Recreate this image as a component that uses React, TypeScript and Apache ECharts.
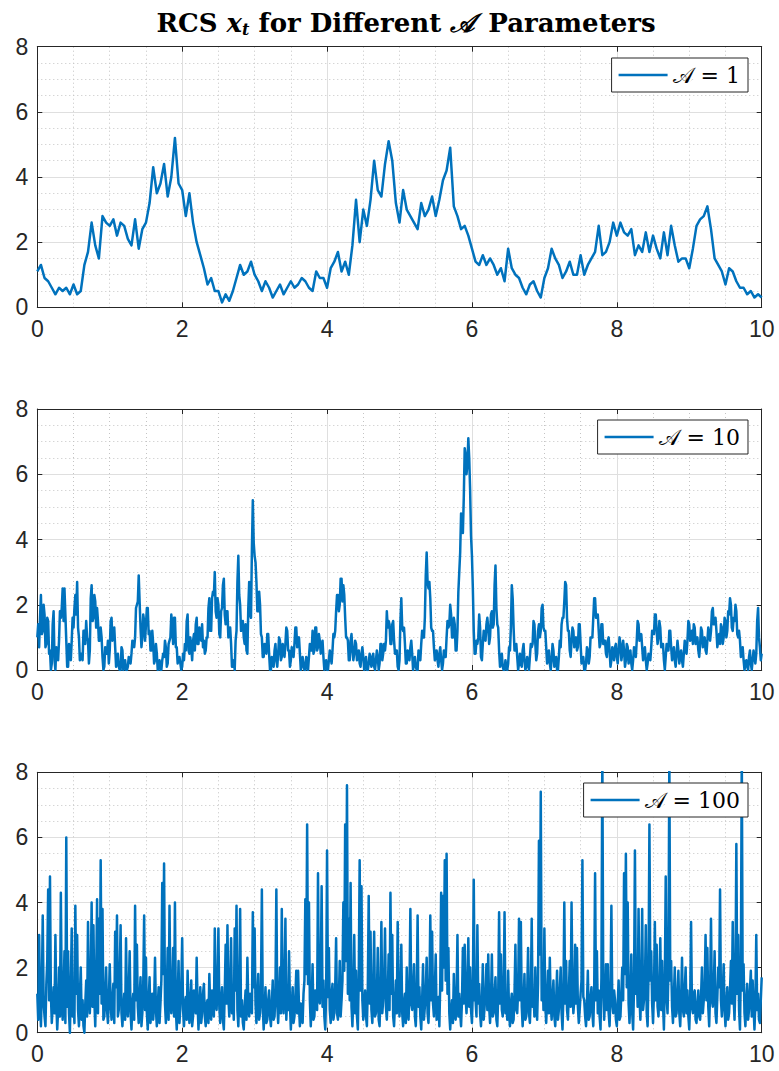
import React, { useEffect, useRef } from "react";
import * as echarts from "echarts";

// ---------- data ----------
const X_TICKS = [0, 2, 4, 6, 8, 10];
const Y_TICKS = [0, 2, 4, 6, 8];
const SERIES_NAMES = ["𝒜 = 1", "𝒜 = 10", "𝒜 = 100"];

// A = 1, step 0.05 from t = 0 to 10
const DT1 = 0.05;
const VALUES_A1 = [
  1.1, 1.3, 0.9, 0.8, 0.6, 0.4, 0.6, 0.5, 0.6, 0.4,
  0.7, 0.4, 0.5, 1.3, 1.7, 2.6, 1.9, 1.5, 2.8, 2.6,
  2.5, 2.7, 2.2, 2.6, 2.5, 2.1, 1.9, 2.7, 1.8, 2.4,
  2.6, 3.2, 4.3, 3.5, 3.8, 4.4, 3.4, 4.0, 5.2, 3.8,
  3.6, 2.8, 3.5, 2.6, 2.0, 1.6, 1.2, 0.7, 0.9, 0.5,
  0.5, 0.15, 0.4, 0.2, 0.5, 0.9, 1.3, 1.0, 1.1, 1.4,
  1.0, 0.8, 0.5, 0.8, 0.6, 0.3, 0.5, 0.7, 0.4, 0.6,
  0.8, 0.6, 0.7, 0.9, 0.8, 0.6, 0.5, 1.1, 0.9, 0.9,
  0.6, 1.2, 1.4, 1.7, 1.1, 1.4, 1.0, 1.9, 3.3, 2.0,
  3.0, 2.5, 3.3, 4.5, 3.6, 3.4, 4.4, 5.1, 4.5, 3.2,
  2.6, 3.6, 3.0, 2.8, 2.6, 2.4, 3.2, 2.8, 3.0, 3.4,
  2.8, 3.3, 3.9, 4.2, 4.9, 3.1, 2.8, 2.4, 2.5, 2.2,
  1.8, 1.4, 1.3, 1.6, 1.3, 1.5, 1.3, 1.0, 1.2, 0.8,
  1.8, 1.2, 1.0, 0.9, 0.6, 0.4, 0.7, 0.8, 0.5, 0.3,
  0.9, 1.2, 1.8, 1.5, 1.3, 0.9, 1.1, 1.4, 1.0, 1.0,
  1.6, 1.0, 1.3, 1.5, 1.7, 2.5, 1.6, 1.7, 2.0, 2.6,
  2.2, 2.6, 2.3, 2.2, 2.4, 1.6, 1.9, 1.7, 2.3, 1.7,
  2.2, 1.8, 1.5, 2.3, 1.6, 2.5, 1.9, 1.4, 1.5, 1.5,
  1.2, 1.8, 2.5, 2.7, 2.8, 3.1, 2.4, 1.5, 1.3, 1.1,
  0.7, 1.2, 1.1, 0.8, 0.6, 0.6, 0.4, 0.5, 0.3, 0.4,
  0.3,
];

// A = 10, step 0.0125
const DT2 = 0.0125;
const VALUES_A10 = [
  1.0, 1.4, 0.7, 1.6, 2.3, 1.1, 1.2, 2.0, 1.7, 0.7, 0.8, 1.6, 1.5, 0.5, 0.6, 0.0, 0.2, 1.4, 1.8, 0.3,
  0.0, 0.7, 0.5, 0.3, 0.9, 1.8, 1.6, 1.9, 2.5, 1.5, 2.5, 1.7, 0.9, 0.1, 0.1, 0.8, 0.6, 0.3, 0.9, 1.6,
  1.3, 1.9, 2.3, 1.7, 2.7, 1.3, 1.0, 0.3, 0.5, 0.5, 0.3, 1.2, 1.2, 0.8, 1.5, 1.0, 0.9, 0.2, 0.6, 2.2,
  2.6, 1.5, 1.6, 2.3, 2.1, 1.3, 1.9, 1.5, 0.9, 0.9, 1.3, 1.0, 0.4, 0.0, 0.1, 0.7, 0.5, 0.5, 0.9, 0.2,
  0.6, 1.5, 1.6, 0.9, 1.1, 1.3, 0.7, 0.1, 0.3, 0.5, 0.1, 0.0, 0.0, 0.7, 0.6, 0.0, 0.1, 0.3, 0.0, 0.0,
  0.1, 0.4, 0.3, 0.2, 0.5, 0.9, 0.8, 0.7, 1.0, 1.9, 2.0, 2.1, 2.9, 2.1, 1.3, 0.7, 1.0, 1.7, 1.5, 0.9,
  1.4, 1.9, 1.9, 1.1, 1.2, 0.6, 0.6, 1.2, 0.8, 0.2, 0.3, 0.8, 0.5, 0.0, 0.2, 0.3, 0.0, 0.0, 0.3, 0.5,
  0.4, 0.9, 0.7, 0.1, 0.2, 0.8, 0.9, 1.0, 1.7, 1.4, 0.8, 1.6, 1.6, 0.7, 0.7, 0.2, 0.3, 0.4, 0.2, 0.0,
  0.1, 0.5, 0.3, 0.8, 0.6, 1.5, 1.7, 0.6, 0.5, 1.0, 0.7, 0.3, 0.9, 1.1, 0.6, 1.4, 1.6, 0.8, 0.8, 1.3,
  1.1, 0.9, 1.4, 0.7, 0.9, 0.5, 0.6, 1.0, 1.0, 1.9, 2.2, 1.2, 1.2, 2.2, 2.4, 2.3, 3.0, 1.8, 1.6, 2.2,
  2.0, 1.1, 1.0, 1.8, 1.9, 2.6, 2.8, 1.7, 1.4, 1.8, 1.8, 1.0, 1.1, 1.3, 0.8, 0.1, 0.1, 0.3, 0.0, 0.9,
  1.2, 2.7, 3.5, 2.3, 2.0, 1.2, 1.3, 1.5, 1.0, 0.8, 1.4, 0.6, 0.5, 1.9, 2.7, 1.7, 1.6, 3.7, 5.2, 3.9,
  3.5, 3.3, 2.7, 1.8, 1.8, 2.4, 2.0, 1.1, 1.0, 0.4, 0.4, 0.8, 0.7, 0.5, 1.1, 1.1, 0.5, 0.0, 0.0, 0.4,
  0.2, 0.1, 0.6, 0.8, 0.3, 0.1, 0.5, 1.0, 0.9, 0.3, 0.4, 0.8, 0.6, 0.4, 0.8, 1.3, 1.2, 0.6, 0.6, 0.1,
  0.3, 0.7, 0.5, 0.4, 0.8, 1.3, 1.3, 0.7, 0.8, 1.0, 0.5, 0.0, 0.1, 0.4, 0.2, 0.0, 0.0, 0.4, 0.3, 0.0,
  0.4, 0.8, 0.6, 0.6, 1.2, 0.5, 0.6, 1.3, 1.3, 0.6, 0.7, 1.1, 0.9, 0.5, 0.7, 0.9, 0.4, 0.0, 0.1, 0.3,
  0.0, 0.0, 0.3, 0.6, 0.4, 0.2, 0.6, 1.1, 1.0, 1.2, 1.8, 2.3, 2.3, 1.8, 2.0, 2.8, 2.8, 2.1, 2.6, 2.3,
  1.6, 1.0, 1.0, 0.9, 0.3, 0.3, 0.9, 1.1, 0.6, 0.3, 0.5, 0.9, 0.8, 0.3, 0.4, 0.6, 0.2, 0.1, 0.5, 0.7,
  0.4, 0.0, 0.2, 0.4, 0.0, 0.0, 0.2, 0.5, 0.3, 0.1, 0.4, 0.5, 0.1, 0.0, 0.3, 0.6, 0.4, 0.0, 0.2, 0.8,
  0.8, 0.3, 0.5, 0.8, 0.6, 0.9, 1.8, 1.3, 1.5, 1.4, 0.8, 0.8, 1.4, 1.5, 0.9, 0.5, 0.6, 0.6, 0.1, 0.0,
  0.3, 1.5, 2.2, 1.3, 1.2, 1.3, 0.8, 0.2, 0.2, 0.6, 0.4, 0.3, 0.7, 0.9, 0.5, 0.0, 0.2, 0.4, 0.1, 0.0,
  0.0, 0.6, 0.5, 0.3, 0.8, 1.2, 1.0, 1.0, 1.6, 2.9, 3.6, 2.7, 2.5, 2.7, 2.2, 1.3, 1.2, 1.2, 0.7, 0.3,
  0.4, 0.6, 0.3, 0.1, 0.5, 0.7, 0.3, 0.0, 0.2, 0.6, 0.4, 0.4, 1.0, 1.5, 1.3, 1.4, 2.0, 1.7, 1.0, 1.0,
  1.6, 1.4, 0.6, 0.6, 1.2, 2.4, 3.0, 3.6, 4.8, 4.7, 4.2, 5.3, 6.8, 6.6, 6.0, 6.3, 7.1, 6.5, 5.5, 4.1,
  3.5, 2.5, 1.2, 0.5, 0.5, 0.9, 0.8, 1.0, 1.7, 1.3, 0.4, 0.3, 0.8, 1.2, 1.0, 0.9, 1.4, 1.6, 1.3, 0.8,
  1.0, 1.7, 1.8, 1.3, 1.4, 2.6, 3.2, 1.9, 1.4, 1.3, 0.6, 0.1, 0.3, 0.5, 0.1, 0.0, 0.0, 0.3, 0.1, 0.0,
  0.2, 0.7, 0.6, 1.3, 2.6, 2.2, 1.3, 0.6, 0.6, 0.8, 0.4, 0.0, 0.2, 0.5, 0.2, 0.1, 0.6, 0.8, 0.3, 0.0,
  0.1, 0.4, 0.2, 0.0, 0.4, 0.8, 0.7, 0.8, 1.5, 1.4, 0.8, 0.3, 0.5, 1.2, 1.4, 1.0, 1.2, 1.9, 2.0, 1.3,
  1.2, 1.2, 0.7, 0.2, 0.4, 0.6, 0.2, 0.0, 0.3, 0.8, 0.6, 0.1, 0.2, 0.4, 0.0, 0.0, 0.4, 0.9, 0.7, 1.4,
  1.6, 1.6, 2.1, 2.7, 2.6, 1.6, 1.2, 1.2, 0.6, 0.4, 0.9, 1.3, 1.2, 0.7, 0.8, 1.0, 0.6, 0.7, 1.4, 1.4,
  0.8, 0.2, 0.3, 0.4, 0.0, 0.0, 0.2, 0.7, 0.6, 0.2, 0.4, 1.0, 1.0, 1.0, 1.6, 2.2, 2.2, 1.6, 1.6, 1.7,
  1.2, 0.7, 0.8, 1.4, 1.4, 0.8, 0.8, 0.9, 0.5, 0.4, 0.9, 1.0, 0.6, 0.1, 0.3, 0.7, 0.5, 0.3, 0.7, 0.8,
  0.4, 0.2, 0.6, 1.0, 0.8, 0.3, 0.5, 0.9, 0.6, 0.1, 0.3, 0.8, 0.7, 0.2, 0.4, 0.6, 0.2, 0.0, 0.3, 0.7,
  0.5, 0.4, 0.9, 1.5, 1.4, 0.9, 1.0, 1.1, 0.7, 0.3, 0.5, 0.7, 0.3, 0.0, 0.2, 0.5, 0.4, 0.3, 0.7, 1.2,
  1.1, 1.1, 1.7, 1.7, 1.2, 0.8, 1.0, 1.5, 1.3, 0.7, 0.8, 0.8, 0.3, 0.0, 0.4, 0.8, 0.6, 0.6, 1.2, 1.2,
  0.7, 0.3, 0.5, 0.7, 0.3, 0.1, 0.5, 0.9, 0.6, 0.2, 0.4, 0.6, 0.3, 0.1, 0.5, 0.9, 0.6, 0.5, 0.9, 1.5,
  1.4, 0.9, 1.0, 1.2, 0.8, 1.4, 1.3, 0.8, 0.9, 1.0, 0.6, 0.4, 0.8, 1.3, 1.2, 0.7, 0.8, 1.0, 0.6, 0.5,
  0.9, 1.3, 1.1, 0.9, 1.2, 1.8, 1.9, 1.4, 1.5, 1.6, 1.2, 0.7, 0.9, 1.1, 0.8, 1.4, 1.3, 0.8, 1.0, 1.6,
  1.5, 1.0, 1.2, 1.8, 1.7, 2.2, 2.0, 1.3, 1.2, 1.6, 1.5, 2.0, 1.8, 1.1, 1.0, 1.2, 0.9, 0.4, 0.5, 0.7,
  0.3, 0.0, 0.2, 0.3, 0.1, 0.0, 0.4, 0.6, 0.2, 0.0, 0.3, 0.6, 0.4, 0.2, 0.5, 1.5, 1.9, 1.0, 0.7, 0.3,
  0.5,
];

// A = 100, step 0.0125
const DT3 = 0.0125;
const VALUES_A100 = [
  1.2, 0.4, 3.0, 1.1, 0.2, 1.3, 3.6, 0.9, 0.5, 0.2, 1.5, 2.2, 4.4, 1.0, 4.8, 1.2, 0.3, 0.8, 1.4, 0.6,
  3.0, 0.9, 0.1, 0.7, 2.0, 0.5, 4.3, 1.1, 0.4, 1.2, 2.5, 0.3, 6.0, 0.8, 2.5, 0.6, 0.0, 1.4, 3.2, 0.5,
  1.0, 0.3, 3.9, 1.2, 3.0, 0.7, 0.2, 1.1, 2.0, 0.4, 1.0, 0.2, 0.0, 0.9, 1.6, 0.5, 3.4, 1.3, 0.6, 1.5,
  4.0, 0.8, 3.3, 1.0, 0.2, 1.6, 4.1, 0.6, 3.5, 1.2, 5.3, 0.9, 3.8, 0.4, 0.5, 1.2, 2.0, 0.7, 0.3, 1.0,
  2.1, 0.9, 0.4, 1.0, 1.5, 0.3, 3.1, 1.4, 3.6, 0.5, 0.7, 1.8, 3.3, 0.6, 0.2, 0.8, 1.2, 0.4, 2.9, 0.8,
  0.5, 1.3, 2.5, 0.6, 0.1, 0.9, 1.2, 0.4, 3.9, 1.0, 2.7, 0.8, 0.3, 1.1, 1.7, 0.2, 0.6, 1.5, 3.6, 0.7,
  2.3, 0.6, 0.1, 1.0, 1.7, 0.3, 0.8, 1.2, 0.4, 0.9, 2.3, 0.7, 0.2, 0.8, 1.4, 0.3, 0.9, 1.6, 4.6, 1.8,
  5.2, 0.9, 0.3, 1.2, 2.6, 0.4, 3.9, 1.1, 0.6, 1.3, 2.6, 0.5, 4.0, 0.7, 0.1, 1.0, 2.2, 0.3, 0.8, 1.4,
  2.9, 0.7, 0.2, 0.9, 1.1, 0.4, 1.9, 0.8, 0.3, 1.0, 1.6, 0.2, 0.5, 1.3, 1.2, 0.6, 2.3, 0.9, 0.1, 0.8,
  1.4, 0.3, 0.6, 1.2, 1.5, 0.5, 0.2, 0.9, 1.0, 0.3, 1.8, 0.7, 0.4, 1.3, 1.1, 0.5, 3.2, 1.0, 0.7, 1.5,
  3.2, 0.8, 0.3, 1.0, 1.4, 0.4, 0.1, 1.2, 2.7, 0.9, 3.3, 1.1, 0.5, 1.4, 2.9, 0.6, 1.2, 0.4, 3.2, 1.3,
  3.9, 0.7, 0.2, 1.1, 3.8, 0.5, 1.0, 0.3, 0.1, 0.8, 1.3, 0.4, 2.3, 0.9, 0.5, 1.2, 1.1, 0.6, 3.7, 1.4,
  3.2, 0.9, 0.3, 1.1, 1.8, 0.4, 0.6, 1.3, 4.4, 0.8, 0.1, 0.7, 1.4, 0.3, 0.4, 1.0, 1.3, 0.5, 0.2, 0.9,
  1.6, 0.4, 0.5, 1.3, 4.4, 0.9, 0.3, 1.0, 2.0, 0.6, 3.8, 1.2, 0.6, 1.5, 3.5, 0.4, 1.1, 0.7, 2.5, 0.9,
  0.1, 0.8, 1.4, 0.3, 0.5, 1.1, 1.9, 0.6, 1.9, 0.8, 0.2, 0.9, 0.7, 0.3, 1.2, 1.6, 4.1, 1.8, 6.4, 1.5,
  4.0, 1.0, 0.2, 0.9, 2.1, 0.4, 0.5, 1.3, 1.2, 0.7, 4.9, 1.1, 0.9, 1.7, 4.5, 0.8, 1.6, 0.5, 0.1, 1.2,
  5.6, 1.1, 2.6, 0.7, 0.3, 1.2, 1.5, 0.4, 0.6, 1.4, 2.9, 0.6, 0.4, 1.0, 2.2, 0.5, 1.0, 1.6, 4.0, 1.9,
  6.4, 2.2, 7.6, 1.2, 3.5, 1.0, 4.6, 0.8, 0.2, 1.1, 3.0, 0.6, 1.9, 0.5, 0.1, 1.7, 5.3, 1.3, 4.5, 1.0,
  0.4, 0.9, 1.3, 0.5, 0.2, 1.4, 4.2, 0.9, 3.1, 0.7, 0.3, 1.2, 3.1, 0.5, 0.6, 1.1, 2.6, 0.4, 0.2, 1.3,
  3.4, 0.6, 1.0, 1.5, 3.2, 0.8, 0.4, 1.1, 2.4, 0.7, 4.3, 1.2, 3.0, 0.5, 0.2, 0.9, 1.6, 0.6, 3.4, 1.1,
  0.5, 1.2, 2.7, 0.6, 0.2, 0.9, 1.2, 0.3, 2.0, 0.8, 0.4, 1.3, 3.8, 0.9, 0.7, 1.4, 2.1, 0.5, 0.2, 1.2,
  3.6, 0.8, 1.4, 0.5, 0.1, 1.0, 2.1, 0.4, 0.8, 1.3, 2.3, 0.6, 0.3, 1.2, 3.6, 1.0, 3.1, 0.9, 0.5, 1.3,
  2.4, 0.4, 0.9, 1.1, 0.2, 1.5, 4.3, 1.3, 4.2, 2.0, 5.3, 1.6, 5.5, 1.2, 2.6, 0.6, 0.1, 0.7, 1.0, 0.3,
  1.8, 0.7, 0.4, 1.1, 3.0, 0.5, 1.2, 0.6, 0.2, 1.0, 2.6, 0.9, 2.7, 1.1, 0.6, 1.4, 2.9, 0.8, 2.0, 0.7,
  0.3, 1.3, 4.7, 1.0, 1.0, 0.5, 3.3, 0.9, 1.5, 0.6, 0.2, 0.9, 2.1, 0.4, 0.8, 1.2, 2.1, 0.7, 2.4, 0.8,
  0.3, 1.0, 2.4, 0.5, 0.6, 1.2, 1.7, 0.4, 0.2, 1.1, 3.7, 0.9, 2.4, 0.7, 0.5, 1.3, 3.7, 0.6, 1.0, 0.4,
  1.9, 0.6, 0.2, 0.9, 1.2, 0.3, 0.4, 1.2, 2.7, 0.7, 0.6, 1.3, 3.5, 1.0, 3.4, 0.8, 0.2, 0.9, 1.8, 0.4,
  0.5, 1.2, 2.6, 0.6, 0.3, 1.1, 3.5, 0.8, 1.2, 0.5, 2.0, 0.9, 0.4, 1.5, 5.9, 2.4, 7.4, 1.0, 2.0, 0.7,
  3.2, 0.9, 0.3, 1.0, 1.9, 0.6, 2.3, 0.9, 0.4, 1.1, 1.6, 0.5, 0.2, 1.0, 1.9, 0.4, 0.7, 1.3, 2.0, 0.6,
  0.1, 1.1, 4.0, 0.9, 2.2, 0.7, 0.4, 1.2, 2.2, 0.8, 4.0, 1.4, 0.6, 1.0, 2.7, 0.9, 2.6, 0.8, 0.3, 0.7,
  1.2, 1.6, 5.3, 1.1, 1.0, 0.5, 0.2, 0.9, 1.9, 0.4, 0.5, 1.1, 1.4, 0.6, 0.2, 1.3, 4.9, 1.0, 2.5, 0.6,
  1.3, 0.5, 0.1, 1.7, 8.6, 1.5, 0.4, 1.0, 2.1, 0.7, 2.1, 0.6, 0.2, 1.2, 3.9, 0.9, 0.6, 1.3, 1.0, 0.4,
  0.2, 0.9, 1.6, 0.4, 0.5, 1.2, 2.0, 1.0, 4.9, 1.8, 5.5, 1.4, 4.0, 0.9, 0.3, 1.1, 2.4, 0.6, 0.1, 1.4,
  5.6, 1.2, 1.9, 0.8, 3.8, 1.1, 0.4, 1.3, 3.8, 0.7, 1.0, 1.4, 3.3, 0.6, 0.2, 1.8, 6.4, 1.6, 2.5, 0.9,
  0.3, 1.2, 3.4, 1.0, 2.7, 0.8, 0.5, 1.3, 2.9, 0.7, 2.2, 0.9, 0.1, 1.5, 4.8, 1.1, 0.6, 1.9, 8.5, 1.6,
  2.2, 0.8, 0.3, 1.1, 2.0, 0.5, 0.6, 1.2, 1.9, 0.6, 0.2, 1.0, 2.3, 0.7, 0.5, 1.3, 2.0, 0.6, 1.3, 0.5,
  0.1, 1.0, 3.4, 0.8, 0.6, 1.2, 1.3, 0.4, 0.3, 0.9, 1.3, 0.5, 0.4, 1.1, 2.0, 0.6, 1.0, 1.4, 3.0, 1.0,
  2.6, 0.8, 0.2, 1.2, 3.5, 1.0, 0.8, 1.3, 2.5, 0.6, 0.3, 1.1, 2.0, 1.4, 4.4, 1.0, 0.5, 1.2, 2.1, 0.7,
  0.2, 0.9, 1.4, 0.4, 0.6, 1.3, 2.2, 0.9, 3.4, 1.1, 0.4, 1.6, 5.8, 1.2, 3.0, 0.7, 0.1, 2.0, 8.6, 1.3,
  2.1, 0.6, 0.2, 1.0, 1.5, 0.4, 0.7, 1.3, 1.9, 0.5, 1.6, 0.8, 0.1, 0.9, 3.0, 0.7, 1.2, 0.4, 0.3, 1.0,
  1.7,
];

// ---------- layout / style ----------
const W = 779;
const H = 1071;
const GRIDS = [
  { left: 37.3, top: 46.7, width: 724.4, height: 260.6 },
  { left: 37.3, top: 409, width: 724.4, height: 261 },
  { left: 37.3, top: 772.3, width: 724.4, height: 260.4 },
];
const LEGEND_TOPS = [58, 420, 783];
const LINE_COLOR = "#0072BD";
const AXIS_COLOR = "#262626";
const LABEL_FONT = "'Liberation Sans', Arial, Helvetica, sans-serif";
const SERIF = "'DejaVu Serif', 'Liberation Serif', serif";

function toPairs(values: number[], dt: number) {
  return values.map((v, i) => [Number((i * dt).toFixed(4)), v]);
}

export default function App() {
  const ref = useRef<HTMLDivElement>(null);

  useEffect(() => {
    if (!ref.current) return;
    const chart = echarts.init(ref.current, undefined, { renderer: "svg" });
    const datasets = [
      toPairs(VALUES_A1, DT1),
      toPairs(VALUES_A10, DT2),
      toPairs(VALUES_A100, DT3),
    ];

    const xAxes: any[] = [];
    const yAxes: any[] = [];
    GRIDS.forEach((_, k) => {
      xAxes.push({
        type: "value",
        gridIndex: k,
        position: "bottom",
        min: X_TICKS[0],
        max: X_TICKS[X_TICKS.length - 1],
        interval: 2,
        axisLine: { show: true, onZero: false, lineStyle: { color: AXIS_COLOR, width: 1 } },
        axisTick: { show: true, inside: true, length: 5, lineStyle: { color: AXIS_COLOR } },
        axisLabel: { color: AXIS_COLOR, fontSize: 23, fontFamily: LABEL_FONT, margin: 10 },
        splitLine: { show: true, lineStyle: { color: "#dfdfdf", width: 1 } },
        minorTick: { show: true, splitNumber: 4, length: 0 },
        minorSplitLine: { show: true, lineStyle: { color: "#c4c4c4", width: 1, type: [1, 3] } },
      });
      xAxes.push({
        type: "value",
        gridIndex: k,
        position: "top",
        min: 0,
        max: 10,
        interval: 2,
        axisLine: { show: true, onZero: false, lineStyle: { color: AXIS_COLOR, width: 1 } },
        axisTick: { show: true, inside: true, length: 5, lineStyle: { color: AXIS_COLOR } },
        axisLabel: { show: false },
        splitLine: { show: false },
      });
      yAxes.push({
        type: "value",
        gridIndex: k,
        position: "left",
        min: Y_TICKS[0],
        max: Y_TICKS[Y_TICKS.length - 1],
        interval: 2,
        axisLine: { show: true, onZero: false, lineStyle: { color: AXIS_COLOR, width: 1 } },
        axisTick: { show: true, inside: true, length: 5, lineStyle: { color: AXIS_COLOR } },
        axisLabel: { color: AXIS_COLOR, fontSize: 23, fontFamily: LABEL_FONT, margin: 9 },
        splitLine: { show: true, lineStyle: { color: "#dfdfdf", width: 1 } },
        minorTick: { show: true, splitNumber: 4, length: 0 },
        minorSplitLine: { show: true, lineStyle: { color: "#c4c4c4", width: 1, type: [1, 3] } },
      });
      yAxes.push({
        type: "value",
        gridIndex: k,
        position: "right",
        min: 0,
        max: 8,
        interval: 2,
        axisLine: { show: true, onZero: false, lineStyle: { color: AXIS_COLOR, width: 1 } },
        axisTick: { show: true, inside: true, length: 5, lineStyle: { color: AXIS_COLOR } },
        axisLabel: { show: false },
        splitLine: { show: false },
      });
    });

    const option: any = {
      animation: false,
      backgroundColor: "#ffffff",
      title: {
        text: "{b|RCS }{i|x}{s|t}{b| for Different }{c|𝒜}{b| Parameters}",
        left: 401,
        top: 3,
        textAlign: "center",
        textStyle: {
          rich: {
            b: { fontFamily: SERIF, fontWeight: "bold", fontSize: 26, color: "#000" },
            i: { fontFamily: SERIF, fontStyle: "italic", fontSize: 26, color: "#000" },
            s: { fontFamily: SERIF, fontStyle: "italic", fontSize: 16, color: "#000", padding: [13, 0, 0, 0] },
            c: { fontFamily: SERIF, fontStyle: "italic", fontSize: 26, color: "#000", padding: [0, 4, 0, 0] },
          },
        },
      },
      grid: GRIDS.map((g) => ({ ...g, containLabel: false })),
      xAxis: xAxes,
      yAxis: yAxes,
      legend: GRIDS.map((_, k) => ({
        data: [SERIES_NAMES[k]],
        right: 31,
        top: LEGEND_TOPS[k],
        orient: "horizontal",
        backgroundColor: "#ffffff",
        borderColor: AXIS_COLOR,
        borderWidth: 1,
        borderRadius: 0,
        padding: [5, 8, 5, 7],
        icon: "rect",
        itemWidth: 49,
        itemHeight: 2.5,
        itemGap: 5,
        selectedMode: false,
        itemStyle: { color: LINE_COLOR, borderWidth: 0 },
        lineStyle: { width: 0 },
        textStyle: { fontFamily: SERIF, fontSize: 22, color: "#000", lineHeight: 24 },
      })),
      series: datasets.map((d, k) => ({
        name: SERIES_NAMES[k],
        type: "line",
        xAxisIndex: 2 * k,
        yAxisIndex: 2 * k,
        data: d,
        symbol: "none",
        showSymbol: false,
        clip: true,
        lineStyle: { color: LINE_COLOR, width: 2.5, join: "round" },
        itemStyle: { color: LINE_COLOR },
      })),
    };
    chart.setOption(option);
    return () => chart.dispose();
  }, []);

  return (
    <div style={{ position: "absolute", left: 0, top: 0, width: W, height: H, background: "#fff" }}>
      <div ref={ref} style={{ width: W, height: H }} />
    </div>
  );
}
